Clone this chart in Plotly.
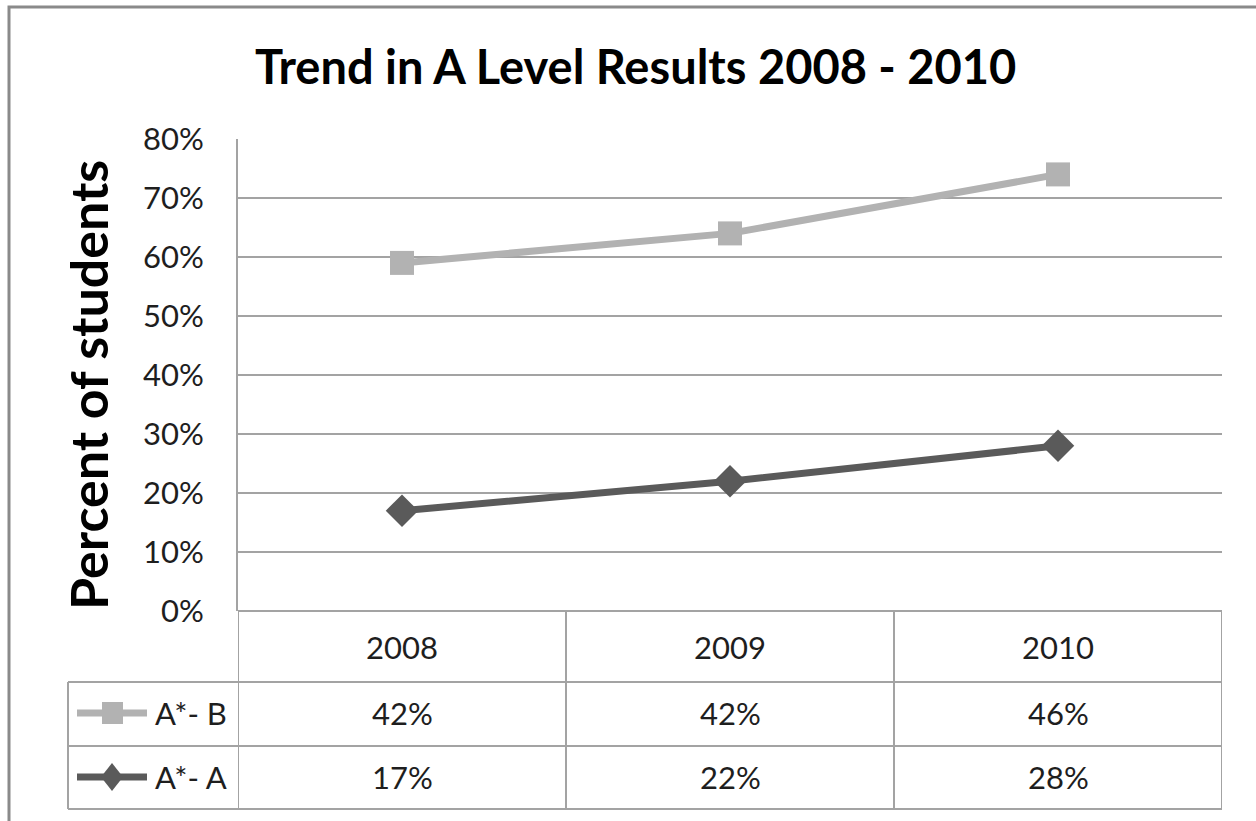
import plotly.graph_objects as go

# ---- data ----
years = ["2008", "2009", "2010"]
series_names = ["A*- B", "A*- A"]
a_star_b = [42, 42, 46]   # shown in table; plotted stacked on top of A*-A
a_star_a = [17, 22, 28]
y_ticks = [0, 10, 20, 30, 40, 50, 60, 70, 80]

title_text = "Trend in A Level Results 2008 - 2010"
ytitle_text = "Percent of students"

# ---- geometry (pixels) ----
W, H = 1256, 821
L, R, T, B = 238, 1222, 139, 611

def px(x):
    return (x - L) / (R - L)

def py(y):
    return (B - y) / (B - T)

light = "#b2b2b2"
dark = "#5a5a5a"
grid = "#a3a3a3"
txt = "#1e1e1e"
FONT = "Lato"

xs = list(range(len(years)))

fig = go.Figure()
fig.add_trace(go.Scatter(
    x=xs, y=a_star_a, name=series_names[1], stackgroup="one", fill="none",
    mode="lines+markers",
    line=dict(color=dark, width=7),
    marker=dict(symbol="diamond", size=25, color=dark),
))
fig.add_trace(go.Scatter(
    x=xs, y=a_star_b, name=series_names[0], stackgroup="one", fill="none",
    mode="lines+markers",
    line=dict(color=light, width=7),
    marker=dict(symbol="square", size=24, color=light),
))

shapes = []
ann = []

# outer chart border
shapes.append(dict(type="rect", xref="paper", yref="paper",
                   x0=px(9), x1=px(1262), y0=py(830), y1=py(7),
                   line=dict(color="#8a8a8a", width=3), layer="below"))

# table lines
row_lines = [682, 746, 809]
for yy in row_lines:
    shapes.append(dict(type="line", xref="paper", yref="paper",
                       x0=px(68), x1=px(R), y0=py(yy), y1=py(yy),
                       line=dict(color=grid, width=2)))
# header top (x axis line)
shapes.append(dict(type="line", xref="paper", yref="paper",
                   x0=px(L), x1=px(R), y0=py(B), y1=py(B),
                   line=dict(color=grid, width=2)))
# column boundaries from data axis
for i in range(len(years) + 1):
    shapes.append(dict(type="line", xref="x", yref="paper",
                       x0=i - 0.5, x1=i - 0.5, y0=py(809), y1=py(B),
                       line=dict(color=grid, width=2)))
shapes.append(dict(type="line", xref="paper", yref="paper",
                   x0=px(68), x1=px(68), y0=py(809), y1=py(682),
                   line=dict(color=grid, width=2)))

# legend keys in the table
row_centers = [713, 777]
key_colors = [light, dark]
for rc, col, kind in zip(row_centers, key_colors, ["square", "diamond"]):
    shapes.append(dict(type="line", xref="paper", yref="paper",
                       x0=px(77), x1=px(147), y0=py(rc), y1=py(rc),
                       line=dict(color=col, width=7)))
    if kind == "square":
        shapes.append(dict(type="rect", xref="paper", yref="paper",
                           x0=px(102), x1=px(123), y0=py(rc + 11), y1=py(rc - 11),
                           fillcolor=col, line=dict(width=0)))
    else:
        cx = px(112)
        path = "M {a},{b} L {c},{d} L {e},{b} L {c},{f} Z".format(
            a=px(101), b=py(rc), c=cx, d=py(rc - 14), e=px(123), f=py(rc + 14))
        shapes.append(dict(type="path", xref="paper", yref="paper", path=path,
                           fillcolor=col, line=dict(width=0)))

for rc, name in zip(row_centers, series_names):
    ann.append(dict(x=px(153), y=py(rc), xref="paper", yref="paper",
                    text=name, showarrow=False, xanchor="left", yanchor="middle",
                    font=dict(family=FONT, size=31, color=txt)))

# header years and values
for i, yr in enumerate(years):
    ann.append(dict(x=i, y=py(647), xref="x", yref="paper", text=yr,
                    showarrow=False, xanchor="center", yanchor="middle",
                    font=dict(family=FONT, size=31, color=txt)))
for rc, vals in zip(row_centers, [a_star_b, a_star_a]):
    for i, v in enumerate(vals):
        ann.append(dict(x=i, y=py(rc), xref="x", yref="paper", text=f"{v}%",
                        showarrow=False, xanchor="center", yanchor="middle",
                        font=dict(family=FONT, size=31, color=txt)))

# title and y title
ann.append(dict(x=px(635), y=py(66), xref="paper", yref="paper",
                text=f"<b>{title_text}</b>", showarrow=False,
                xanchor="center", yanchor="middle",
                font=dict(family=FONT, size=47, color="#000000")))
ann.append(dict(x=px(88), y=py(385), xref="paper", yref="paper",
                text=f"<b>{ytitle_text}</b>", showarrow=False, textangle=-90,
                xanchor="center", yanchor="middle",
                font=dict(family=FONT, size=52, color="#000000")))

fig.update_layout(
    width=W, height=H,
    margin=dict(l=L, r=W - R, t=T, b=H - B, pad=0),
    paper_bgcolor="white", plot_bgcolor="white",
    showlegend=False,
    shapes=shapes, annotations=ann,
    xaxis=dict(range=[-0.5, len(years) - 0.5], showticklabels=False,
               showgrid=False, zeroline=False, showline=False, ticks=""),
    yaxis=dict(range=[0, 80], tickvals=y_ticks,
               ticktext=[f"{t}%" for t in y_ticks],
               showgrid=True, gridcolor=grid, gridwidth=2,
               zeroline=False, showline=True, linecolor=grid, linewidth=2,
               ticks="", ticklabelstandoff=26,
               tickfont=dict(family=FONT, size=31, color=txt)),
)

fig.write_html("out.html")
